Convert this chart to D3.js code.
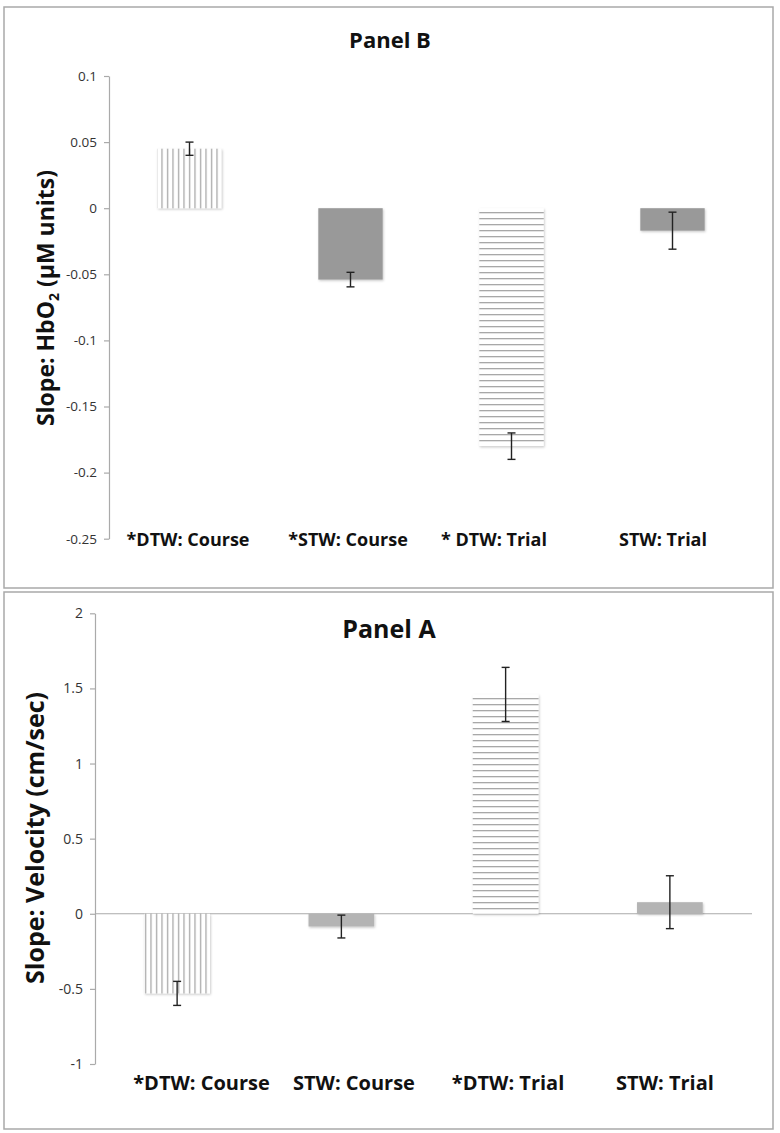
<!DOCTYPE html>
<html><head><meta charset="utf-8">
<script src="https://cdn.jsdelivr.net/npm/d3@7"></script>
<style>body{margin:0;background:#fff;} svg{display:block;}</style>
</head><body>
<script>
// ---- Data ----
const categoriesB = ["*DTW: Course", "*STW: Course", "* DTW: Trial", "STW: Trial"];
const valuesB = [0.045, -0.054, -0.18, -0.017];
const errorsB = [0.005, 0.0055, 0.01, 0.014];
const ticksB = [0.1, 0.05, 0, -0.05, -0.1, -0.15, -0.2, -0.25];

const categoriesA = ["*DTW: Course", "STW: Course", "*DTW: Trial", "STW: Trial"];
const valuesA = [-0.53, -0.085, 1.46, 0.077];
const errorsA = [0.08, 0.076, 0.18, 0.176];
const ticksA = [2, 1.5, 1, 0.5, 0, -0.5, -1];

const fillKinds = ["vstripe", "solid", "hstripe", "solid"];

const W = 780, H = 1133;
const font = "'Open Sans', Lato, sans-serif";
const svg = d3.select("body").append("svg").attr("width", W).attr("height", H);
const defs = svg.append("defs");

// patterns
const pv = defs.append("pattern").attr("id", "vstripe").attr("patternUnits", "userSpaceOnUse")
  .attr("width", 5.5).attr("height", 10);
pv.append("rect").attr("width", 5.5).attr("height", 10).attr("fill", "#fff");
pv.append("rect").attr("x", 2).attr("width", 1.1).attr("height", 10).attr("fill", "#9a9a9a");

const ph = defs.append("pattern").attr("id", "hstripe").attr("patternUnits", "userSpaceOnUse")
  .attr("width", 10).attr("height", 6);
ph.append("rect").attr("width", 10).attr("height", 6).attr("fill", "#fff");
ph.append("rect").attr("y", 2).attr("width", 10).attr("height", 1.3).attr("fill", "#a8a8a8");

const f = defs.append("filter").attr("id", "shadow").attr("x", "-10%").attr("y", "-10%").attr("width", "130%").attr("height", "130%");
f.append("feDropShadow").attr("dx", 0.8).attr("dy", 1.2).attr("stdDeviation", 1.2)
  .attr("flood-color", "#000").attr("flood-opacity", 0.22);

function fmt(d){ return String(+d.toFixed(2)); }

function panel(cfg) {
  const g = svg.append("g");
  // frame
  g.append("rect").attr("x", cfg.frame[0]).attr("y", cfg.frame[1])
    .attr("width", cfg.frame[2]).attr("height", cfg.frame[3])
    .attr("fill", "#fff").attr("stroke", "#a9a9a9").attr("stroke-width", 1.5);

  const y = d3.scaleLinear().domain(d3.extent(cfg.ticks)).range([cfg.yBottom, cfg.yTop]);
  const x = d3.scaleBand().domain(cfg.cats).range([cfg.xLeft, cfg.xRight]).paddingInner(0.6).paddingOuter(0.3);

  // title
  g.append("text").attr("x", cfg.titleX).attr("y", cfg.titleY).attr("text-anchor", "middle")
    .attr("font-family", font).attr("font-weight", 700).attr("font-size", cfg.titleSize)
    .attr("fill", "#111").text(cfg.title);

  // zero line
  if (cfg.zeroLine) {
    g.append("line").attr("x1", cfg.xLeft).attr("x2", cfg.xRight)
      .attr("y1", y(0)).attr("y2", y(0)).attr("stroke", "#aaa").attr("stroke-width", 1.2);
  }

  // axis
  const ax = g.append("g").attr("transform", `translate(${cfg.xLeft},0)`)
    .call(d3.axisLeft(y).tickValues(cfg.ticks).tickFormat(fmt).tickSize(5).tickSizeOuter(0).tickPadding(7));
  ax.select(".domain").attr("stroke", "#aaa").attr("stroke-width", 1.2);
  ax.selectAll(".tick line").attr("stroke", "#aaa").attr("stroke-width", 1.2);
  ax.selectAll(".tick text").attr("font-family", font).attr("font-size", cfg.tickSize).attr("fill", "#333");

  // bars
  const data = cfg.cats.map((c, i) => ({c, v: cfg.vals[i], e: cfg.errs[i], k: fillKinds[i]}));
  g.selectAll("rect.bar").data(data).join("rect").attr("class", "bar")
    .attr("x", d => x(d.c)).attr("width", x.bandwidth())
    .attr("y", d => y(Math.max(0, d.v))).attr("height", d => Math.abs(y(d.v) - y(0)))
    .attr("fill", d => d.k === "solid" ? cfg.solid : `url(#${d.k})`)
    .attr("filter", "url(#shadow)");

  // error bars
  const eb = g.selectAll("g.err").data(data).join("g").attr("class", "err")
    .attr("stroke", "#222").attr("stroke-width", 1.4);
  const cx = d => x(d.c) + x.bandwidth() / 2;
  eb.append("line").attr("x1", cx).attr("x2", cx).attr("y1", d => y(d.v + d.e)).attr("y2", d => y(d.v - d.e));
  eb.append("line").attr("x1", d => cx(d) - 4).attr("x2", d => cx(d) + 4).attr("y1", d => y(d.v + d.e)).attr("y2", d => y(d.v + d.e));
  eb.append("line").attr("x1", d => cx(d) - 4).attr("x2", d => cx(d) + 4).attr("y1", d => y(d.v - d.e)).attr("y2", d => y(d.v - d.e));

  // category labels
  g.selectAll("text.cat").data(data).join("text").attr("class", "cat")
    .attr("x", (d, i) => cx(d) + cfg.labelDx[i]).attr("y", cfg.labelY).attr("text-anchor", "middle")
    .attr("font-family", font).attr("font-weight", 700).attr("font-size", cfg.labelSize)
    .attr("fill", "#111").text(d => d.c);

  // y title
  const yt = g.append("text").attr("transform", `translate(${cfg.yTitleX},${cfg.yTitleY}) rotate(-90)`)
    .attr("text-anchor", "middle").attr("font-family", font).attr("font-weight", 700)
    .attr("font-size", cfg.yTitleSize).attr("fill", "#111");
  cfg.yTitle(yt);
}

panel({
  frame: [4, 7, 769, 581], title: "Panel B", titleX: 390, titleY: 48, titleSize: 22,
  ticks: ticksB, yTop: 76, yBottom: 538.7, xLeft: 109, xRight: 753,
  cats: categoriesB, vals: valuesB, errs: errorsB, solid: "#999999", zeroLine: false,
  tickSize: 13.5, labelY: 546, labelSize: 18, labelDx: [-1.5, -2.5, -17.5, -9.5],
  yTitleX: 54, yTitleY: 298, yTitleSize: 23,
  yTitle: t => {
    t.append("tspan").text("Slope: HbO");
    t.append("tspan").attr("font-size", 14).attr("dy", 5).text("2");
    t.append("tspan").attr("dy", -5).text(" (μM units)");
  }
});

panel({
  frame: [4, 592, 769, 537], title: "Panel A", titleX: 389, titleY: 638, titleSize: 25,
  ticks: ticksA, yTop: 613.3, yBottom: 1064, xLeft: 95, xRight: 752,
  cats: categoriesA, vals: valuesA, errs: errorsA, solid: "#b4b4b4", zeroLine: true,
  tickSize: 14, labelY: 1090, labelSize: 20, labelDx: [24.4, 12.6, 2.4, -4.9],
  yTitleX: 44, yTitleY: 838, yTitleSize: 25,
  yTitle: t => t.text("Slope: Velocity (cm/sec)")
});
</script>
</body></html>
